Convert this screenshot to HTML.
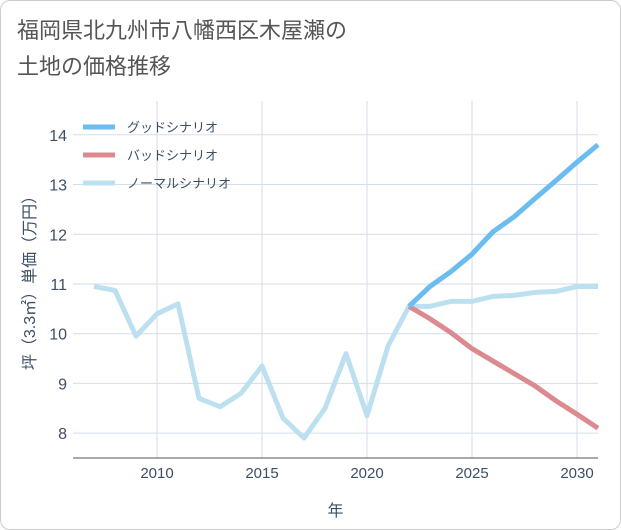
<!DOCTYPE html>
<html><head><meta charset="utf-8"><style>
body{margin:0;background:#fff;}
#card{position:absolute;left:0;top:0;width:619px;height:528px;border:1px solid #ccc;border-radius:10px;background:#fff;overflow:hidden;}
#title{position:absolute;left:16px;top:12px;font:22px/36px "Liberation Sans","Noto Sans CJK JP",sans-serif;color:#555;}
svg text{font-family:"Liberation Sans","Noto Sans CJK JP",sans-serif;}
</style></head><body>
<div id="card">
<div id="title">福岡県北九州市八幡西区木屋瀬の<br>土地の価格推移</div>
<svg id="chart" width="621" height="530" style="position:absolute;left:0;top:0"></svg>
</div>
<script>
const years=[2007,2008,2009,2010,2011,2012,2013,2014,2015,2016,2017,2018,2019,2020,2021,2022,2023,2024,2025,2026,2027,2028,2029,2030,2031];
const normal=[10.95,10.87,9.95,10.4,10.6,8.7,8.53,8.8,9.35,8.3,7.9,8.5,9.6,8.35,9.75,10.55,10.55,10.65,10.65,10.75,10.77,10.83,10.85,10.95,10.95];
const forecastYears=[2022,2023,2024,2025,2026,2027,2028,2029,2030,2031];
const good=[10.55,10.95,11.25,11.6,12.05,12.35,12.72,13.08,13.45,13.8];
const bad=[10.55,10.3,10.02,9.7,9.45,9.2,8.95,8.65,8.38,8.1];
const xTicks=[2010,2015,2020,2025,2030];
const yTicks=[8,9,10,11,12,13,14];
const X0=72,X1=597,Y0=100,Y1=457,xmin=2006,xmax=2031,ymin=7.5,ymax=14.68;
const xs=v=>X0+(v-xmin)/(xmax-xmin)*(X1-X0);
const ys=v=>Y1-(v-ymin)/(ymax-ymin)*(Y1-Y0);
const svg=document.getElementById('chart');const NS='http://www.w3.org/2000/svg';
const TC='#3d4f63';
function mk(t,a,p){const e=document.createElementNS(NS,t);for(const k in a)e.setAttribute(k,a[k]);(p||svg).appendChild(e);return e;}
const bg=mk('rect',{x:X0,y:Y0,width:X1-X0,height:Y1-Y0,fill:'#fff'});


xTicks.forEach(t=>{const g=mk('line',{x1:xs(t),x2:xs(t),y1:Y0,y2:Y1,stroke:'#d5dde8'});


const l=mk('text',{x:xs(t),y:Y1+20,'text-anchor':'middle','font-size':15,fill:TC});l.textContent=t;

});
yTicks.forEach(t=>{const g=mk('line',{x1:X0,x2:X1,y1:ys(t),y2:ys(t),stroke:'#d5dde8'});


const l=mk('text',{x:X0-6,y:ys(t)+6,'text-anchor':'end','font-size':16,fill:TC});l.textContent=t;

});
const ax=mk('line',{x1:X0,x2:X1,y1:Y1,y2:Y1,stroke:'#555'});


const xt=mk('text',{x:(X0+X1)/2,y:515,'text-anchor':'middle','font-size':16,fill:TC});xt.textContent='年';


const yt=mk('text',{x:0,y:0,'text-anchor':'middle','font-size':16,fill:TC,transform:'translate(34,278) rotate(-90)'});yt.textContent='坪（3.3㎡）単価（万円）';


function line(xv,yv,c,name){const p=mk('polyline',{points:xv.map((x,i)=>xs(x)+','+ys(yv[i])).join(' '),fill:'none',stroke:c,'stroke-width':5,'stroke-linejoin':'round'});

}
line(years,normal,'#bde0f0','normal-scenario-line');
line(forecastYears,bad,'#dc8a90','bad-scenario-line');
line(forecastYears,good,'#6bbcf0','good-scenario-line');
const leg=[['グッドシナリオ','#6bbcf0'],['バッドシナリオ','#dc8a90'],['ノーマルシナリオ','#bde0f0']];
leg.forEach((d,i)=>{const y=126+i*28;const g=mk('g',{});


mk('line',{x1:82,x2:114,y1:y,y2:y,stroke:d[1],'stroke-width':5},g);
const t=mk('text',{x:126,y:y+5,'font-size':13,fill:TC},g);t.textContent=d[0];});
</script>
</body></html>
